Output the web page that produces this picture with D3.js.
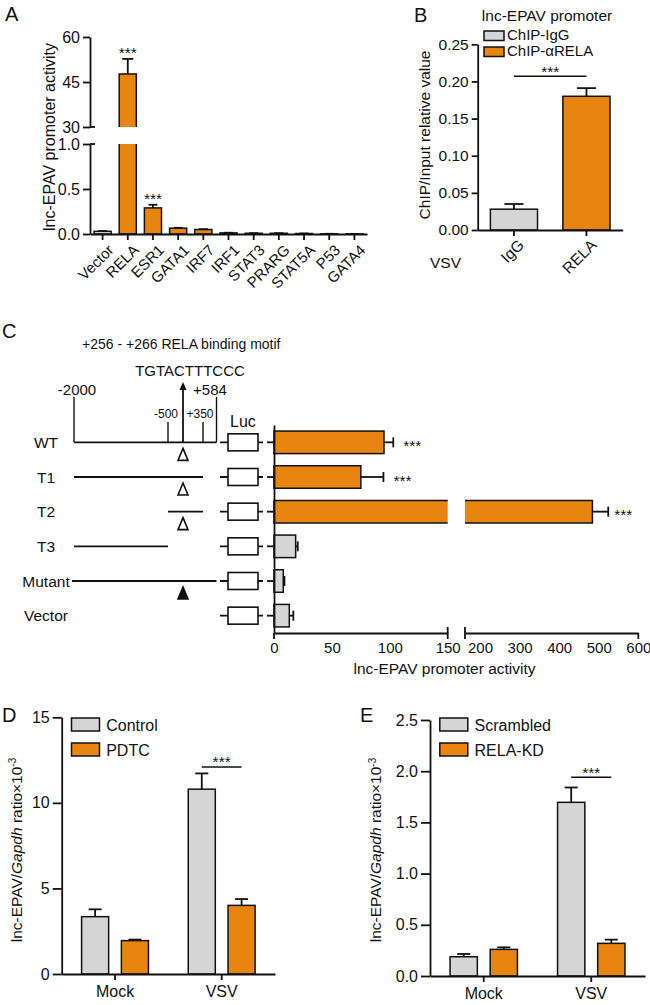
<!DOCTYPE html>
<html><head><meta charset="utf-8">
<script src="https://cdn.jsdelivr.net/npm/d3@7"></script>
<style>
body{margin:0;background:#fff;}
svg{display:block;font-family:"Liberation Sans",Arial,Helvetica,sans-serif;}
</style></head><body>
<svg id="fig" width="650" height="1005"></svg>
<script>
// ---------------- DATA ----------------
// Panel A
const aCategories = ["Vector","RELA","ESR1","GATA1","IRF7","IRF1","STAT3","PRARG","STAT5A","P53","GATA4"];
const aValues = [0.03, 47.7, 0.29, 0.065, 0.05, 0.012, 0.008, 0.008, 0.005, 0.002, 0.001];
const aErrors = [0.003, 5.0, 0.035, 0.004, 0.004, 0.002, 0.001, 0.001, 0.001, 0.0005, 0.0005];
const aOrange = ["RELA","ESR1","GATA1","IRF7"];
const aSignificance = ["","***","***","","","","","","","",""];
const aTicksLow = [0, 0.5, 1.0];
const aTicksHigh = [30, 45, 60];

// Panel B
const bCategories = ["IgG","RELA"];
const bSeries = ["ChIP-IgG","ChIP-\u03B1RELA"];
const bValues = [0.028, 0.18];
const bErrors = [0.007, 0.011];
const bTicks = [0, 0.05, 0.10, 0.15, 0.20, 0.25];
const bSigLine = 0.207;

// Panel C
const cConstructs = ["WT","T1","T2","T3","Mutant","Vector"];
const cValues = [95, 75, 484, 18.7, 8, 13.2];
const cErrors = [8, 19.5, 40, 1.8, 1, 3.5];
const cSignificance = ["***","***","***","","",""];
const cOrange = ["WT","T1","T2"];
const cRegionStart = [-2000, -2000, -500, -2000, -2000, null];
const cRegionEnd = [584, 350, 350, -500, 584, null];
const cMotif = ["open","open","open","none","filled","none"];
const cTicksLow = [0, 50, 100, 150];
const cTicksHigh = [200, 300, 400, 500, 600];
const cSites = [-2000, -500, 256, 350, 584];

// Panel D
const dGroups = ["Mock","VSV"];
const dSeries = ["Control","PDTC"];
const dControl = [3.35, 10.8];
const dControlErr = [0.43, 0.92];
const dPDTC = [1.95, 4.01];
const dPDTCErr = [0.06, 0.37];
const dTicks = [0, 5, 10, 15];
const dSigLine = 12.1;

// Panel E
const eGroups = ["Mock","VSV"];
const eSeries = ["Scrambled","RELA-KD"];
const eScrambled = [0.188, 1.696];
const eScrambledErr = [0.027, 0.145];
const eRelaKD = [0.26, 0.319];
const eRelaKDErr = [0.02, 0.036];
const eTicks = [0, 0.5, 1.0, 1.5, 2.0, 2.5];
const eSigLine = 1.94;

// ---------------- STYLE ----------------
const ORANGE = "#E8850E";
const GRAY = "#D5D5D5";
const INK = "#111";
const FS = 15.5;
const SW = 1.8;

const svg = d3.select("#fig");

function styleAxis(g, fs) {
  g.attr("font-family", null).attr("font-size", fs || FS);
  g.select(".domain").attr("stroke", INK).attr("stroke-width", SW);
  g.selectAll(".tick line").attr("stroke", INK).attr("stroke-width", SW);
  g.selectAll(".tick text").attr("fill", INK);
}
function panelLabel(t, x, y) {
  svg.append("text").attr("x", x).attr("y", y).attr("font-size", 20).attr("fill", INK).text(t);
}
function vErr(g, cx, y0, y1, hw) {
  g.append("line").attr("x1", cx).attr("x2", cx).attr("y1", y0).attr("y2", y1).attr("stroke", INK).attr("stroke-width", SW);
  g.append("line").attr("x1", cx - hw).attr("x2", cx + hw).attr("y1", y1).attr("y2", y1).attr("stroke", INK).attr("stroke-width", SW);
}
function stars(g, x, y, anchor) {
  g.append("text").attr("x", x).attr("y", y).attr("text-anchor", anchor || "middle")
    .attr("font-size", 15.5).attr("fill", INK).text("***");
}

// ---------------- PANEL A ----------------
(function () {
  const g = svg.append("g");
  panelLabel("A", 5, 21);
  const x = d3.scaleBand().domain(aCategories).range([90, 367]).paddingInner(0.32).paddingOuter(0.16);
  const yLow = d3.scaleLinear().domain([0, 1]).range([234, 144]);
  const yHigh = d3.scaleLinear().domain([30, 60]).range([127, 37]);

  aCategories.forEach((c, i) => {
    const v = aValues[i], e = aErrors[i];
    const x0 = x(c), x1 = x(c) + x.bandwidth(), cx = x(c) + x.bandwidth() / 2;
    const fill = aOrange.includes(c) ? ORANGE : GRAY;
    if (v <= 1) {
      g.append("rect").attr("x", x0).attr("y", yLow(v)).attr("width", x.bandwidth())
        .attr("height", yLow(0) - yLow(v)).attr("fill", fill).attr("stroke", INK).attr("stroke-width", 1.5);
      vErr(g, cx, yLow(v), yLow(v + e), 4.5);
      if (aSignificance[i]) stars(g, cx, yLow(v + e) - 1);
    } else {
      g.append("rect").attr("x", x0).attr("y", yLow(1)).attr("width", x.bandwidth())
        .attr("height", yLow(0) - yLow(1)).attr("fill", fill);
      g.append("path").attr("d", `M${x0},${yLow(1)}V${yLow(0)}H${x1}V${yLow(1)}`)
        .attr("fill", "none").attr("stroke", INK).attr("stroke-width", 1.5);
      g.append("rect").attr("x", x0).attr("y", yHigh(v)).attr("width", x.bandwidth())
        .attr("height", yHigh(30) - yHigh(v)).attr("fill", fill);
      g.append("path").attr("d", `M${x0},${yHigh(30)}V${yHigh(v)}H${x1}V${yHigh(30)}`)
        .attr("fill", "none").attr("stroke", INK).attr("stroke-width", 1.5);
      vErr(g, cx, yHigh(v), yHigh(v + e), 5.5);
      if (aSignificance[i]) stars(g, cx, yHigh(v + e) - 1);
    }
  });

  g.append("g").attr("transform", "translate(90,0)")
    .call(d3.axisLeft(yLow).tickValues(aTicksLow).tickFormat(d3.format(".1f")).tickSize(7).tickSizeOuter(0).tickPadding(3))
    .call(styleAxis, 16);
  g.append("g").attr("transform", "translate(90,0)")
    .call(d3.axisLeft(yHigh).tickValues(aTicksHigh).tickFormat(d3.format("d")).tickSize(7).tickSizeOuter(0).tickPadding(3))
    .call(styleAxis, 16);
  [yLow(1), yHigh(30)].forEach(yy => {
    g.append("line").attr("x1", 90).attr("x2", 95).attr("y1", yy).attr("y2", yy).attr("stroke", INK).attr("stroke-width", SW);
  });
  const xa = g.append("g").attr("transform", "translate(0,234)")
    .call(d3.axisBottom(x).tickSize(6).tickSizeOuter(0))
    .call(styleAxis, 15);
  xa.selectAll(".tick text").attr("x", 0).attr("y", 0).attr("dy", 0)
    .attr("text-anchor", "end").attr("transform", "translate(12,17) rotate(-45)");

  g.append("text").attr("transform", "translate(49.5,137) rotate(-90)").attr("dy", "0.35em")
    .attr("text-anchor", "middle").attr("font-size", 16).attr("fill", INK).text("lnc-EPAV promoter activity");
})();

// ---------------- PANEL B ----------------
(function () {
  const g = svg.append("g");
  panelLabel("B", 414, 22);
  const x = d3.scaleBand().domain(bCategories).range([477.7, 622.7]).paddingInner(0.35).paddingOuter(0.175);
  const y = d3.scaleLinear().domain([0, 0.25]).range([230, 44.3]);
  const colors = [GRAY, ORANGE];

  bCategories.forEach((c, i) => {
    const v = bValues[i], e = bErrors[i];
    const cx = x(c) + x.bandwidth() / 2;
    g.append("rect").attr("x", x(c)).attr("y", y(v)).attr("width", x.bandwidth()).attr("height", y(0) - y(v))
      .attr("fill", colors[i]).attr("stroke", INK).attr("stroke-width", 1.5);
    vErr(g, cx, y(v), y(v + e), 9.5);
  });
  const c0 = x(bCategories[0]) + x.bandwidth() / 2, c1 = x(bCategories[1]) + x.bandwidth() / 2;
  g.append("line").attr("x1", c0).attr("x2", c1).attr("y1", y(bSigLine)).attr("y2", y(bSigLine)).attr("stroke", INK).attr("stroke-width", 1.5);
  stars(g, (c0 + c1) / 2, y(bSigLine) + 0.5);

  g.append("g").attr("transform", "translate(477.7,0)")
    .call(d3.axisLeft(y).tickValues(bTicks).tickFormat(d3.format(".2f")).tickSize(6).tickSizeOuter(0).tickPadding(3))
    .call(styleAxis);
  const xa = g.append("g").attr("transform", "translate(0,230)")
    .call(d3.axisBottom(x).tickSize(6).tickSizeOuter(0))
    .call(styleAxis);
  xa.selectAll(".tick text").attr("x", 0).attr("y", 0).attr("dy", 0)
    .attr("text-anchor", "end").attr("transform", "translate(11,16) rotate(-45)");
  g.append("text").attr("x", 430).attr("y", 268).attr("font-size", FS).attr("fill", INK).text("VSV");

  g.append("text").attr("transform", "translate(424.5,135) rotate(-90)").attr("dy", "0.35em")
    .attr("text-anchor", "middle").attr("font-size", FS).attr("fill", INK).text("ChIP/Input relative value");
  g.append("text").attr("x", 547).attr("y", 21).attr("text-anchor", "middle").attr("font-size", FS).attr("fill", INK)
    .text("lnc-EPAV promoter");
  bSeries.forEach((s, i) => {
    g.append("rect").attr("x", 484).attr("y", 31 + i * 16).attr("width", 20).attr("height", 9.5)
      .attr("fill", colors[i]).attr("stroke", INK).attr("stroke-width", 1.5);
    g.append("text").attr("x", 507).attr("y", 39.5 + i * 16).attr("font-size", 15).attr("fill", INK).text(s);
  });
})();

// ---------------- PANEL C ----------------
(function () {
  const g = svg.append("g");
  panelLabel("C", 2, 338);
  const x1 = d3.scaleLinear().domain([0, 150]).range([274, 447.7]);
  const x2 = d3.scaleLinear().domain([162, 600]).range([465, 638.3]);
  const y = d3.scaleBand().domain(cConstructs).range([425, 633]).paddingInner(0.35).paddingOuter(0.175);
  const pos = d3.scaleLinear().domain(cSites).range([74, 168, 183, 203, 216.5]);
  const axisY = 633;

  cConstructs.forEach((c, i) => {
    const v = cValues[i], e = cErrors[i];
    const y0 = y(c), h = y.bandwidth(), cy = y0 + h / 2;
    const fill = cOrange.includes(c) ? ORANGE : GRAY;
    if (v <= 150) {
      g.append("rect").attr("x", x1(0)).attr("y", y0).attr("width", x1(v) - x1(0)).attr("height", h)
        .attr("fill", fill).attr("stroke", INK).attr("stroke-width", 1.5);
      g.append("line").attr("x1", x1(v)).attr("x2", x1(v + e)).attr("y1", cy).attr("y2", cy).attr("stroke", INK).attr("stroke-width", SW);
      g.append("line").attr("x1", x1(v + e)).attr("x2", x1(v + e)).attr("y1", cy - 5).attr("y2", cy + 5).attr("stroke", INK).attr("stroke-width", SW);
      if (cSignificance[i]) stars(g, x1(v + e) + 10, cy + 8.5, "start");
    } else {
      g.append("rect").attr("x", x1(0)).attr("y", y0).attr("width", x1(150) - x1(0)).attr("height", h).attr("fill", fill);
      g.append("path").attr("d", `M${x1(150)},${y0}H${x1(0)}V${y0 + h}H${x1(150)}`)
        .attr("fill", "none").attr("stroke", INK).attr("stroke-width", 1.5);
      g.append("rect").attr("x", x2(162)).attr("y", y0).attr("width", x2(v) - x2(162)).attr("height", h).attr("fill", fill);
      g.append("path").attr("d", `M${x2(162)},${y0}H${x2(v)}V${y0 + h}H${x2(162)}`)
        .attr("fill", "none").attr("stroke", INK).attr("stroke-width", 1.5);
      g.append("line").attr("x1", x2(v)).attr("x2", x2(v + e)).attr("y1", cy).attr("y2", cy).attr("stroke", INK).attr("stroke-width", SW);
      g.append("line").attr("x1", x2(v + e)).attr("x2", x2(v + e)).attr("y1", cy - 5).attr("y2", cy + 5).attr("stroke", INK).attr("stroke-width", SW);
      if (cSignificance[i]) stars(g, x2(v + e) + 6, cy + 8.5, "start");
    }

    g.append("text").attr("x", 46).attr("y", cy + 5.5).attr("text-anchor", "middle").attr("font-size", FS).attr("fill", INK).text(c);
    if (cRegionStart[i] !== null) {
      const xs = c === "Mutant" ? 72 : pos(cRegionStart[i]);
      g.append("line").attr("x1", xs).attr("x2", pos(cRegionEnd[i])).attr("y1", cy).attr("y2", cy)
        .attr("stroke", INK).attr("stroke-width", SW);
    }
    if (cMotif[i] !== "none") {
      const mx = pos(256), ty = cy + 6;
      g.append("path").attr("d", `M${mx},${ty}L${mx + 5},${ty + 12}L${mx - 5},${ty + 12}Z`)
        .attr("fill", cMotif[i] === "filled" ? INK : "#fff").attr("stroke", INK).attr("stroke-width", 1.6);
    }
    g.append("line").attr("x1", 220).attr("x2", 263).attr("y1", cy).attr("y2", cy).attr("stroke", INK).attr("stroke-width", SW);
    g.append("rect").attr("x", 228).attr("y", cy - 8.5).attr("width", 30).attr("height", 17)
      .attr("fill", "#fff").attr("stroke", INK).attr("stroke-width", 1.6);
  });

  g.append("g").attr("transform", "translate(274,0)")
    .call(d3.axisLeft(y).tickSize(7).tickSizeOuter(0).tickFormat(""))
    .call(styleAxis);
  g.append("g").attr("transform", `translate(0,${axisY})`)
    .call(d3.axisBottom(x1).tickValues(cTicksLow).tickSize(0).tickPadding(9).tickSizeOuter(0))
    .call(styleAxis, 15);
  g.append("g").attr("transform", `translate(0,${axisY})`)
    .call(d3.axisBottom(x2).tickValues(cTicksHigh).tickSize(0).tickPadding(9).tickSizeOuter(0))
    .call(styleAxis, 15);
  [[x1(0), 0, 6], [x1(150), -6, 6], [x2(162), -6, 6], [x2(600), 0, 6]].forEach(m => {
    g.append("line").attr("x1", m[0]).attr("x2", m[0]).attr("y1", axisY + m[1]).attr("y2", axisY + m[2])
      .attr("stroke", INK).attr("stroke-width", SW);
  });
  g.append("text").attr("x", 444.5).attr("y", 674).attr("text-anchor", "middle").attr("font-size", FS).attr("fill", INK)
    .text("lnc-EPAV promoter activity");

  const wtY = y("WT") + y.bandwidth() / 2;
  g.append("text").attr("x", 82).attr("y", 349).attr("font-size", 14).attr("fill", INK).text("+256 - +266 RELA binding motif");
  g.append("text").attr("x", 190).attr("y", 376).attr("text-anchor", "middle").attr("font-size", 15).attr("fill", INK).text("TGTACTTTCCC");
  g.append("text").attr("x", 77).attr("y", 395).attr("text-anchor", "middle").attr("font-size", 15).attr("fill", INK).text("-2000");
  g.append("text").attr("x", 210).attr("y", 395).attr("text-anchor", "middle").attr("font-size", 15).attr("fill", INK).text("+584");
  g.append("text").attr("x", 166).attr("y", 418).attr("text-anchor", "middle").attr("font-size", 12).attr("fill", INK).text("-500");
  g.append("text").attr("x", 200).attr("y", 418).attr("text-anchor", "middle").attr("font-size", 12).attr("fill", INK).text("+350");
  [[pos(-2000), 397], [pos(584), 397], [pos(-500), 422], [pos(350), 422]].forEach(m => {
    g.append("line").attr("x1", m[0]).attr("x2", m[0]).attr("y1", m[1]).attr("y2", wtY).attr("stroke", INK).attr("stroke-width", 1.4);
  });
  const ax = pos(256);
  g.append("line").attr("x1", ax).attr("x2", ax).attr("y1", wtY).attr("y2", 388).attr("stroke", INK).attr("stroke-width", 1.8);
  g.append("path").attr("d", `M${ax},382L${ax + 3.6},390L${ax - 3.6},390Z`).attr("fill", INK);
  g.append("text").attr("x", 230).attr("y", 427).attr("font-size", 16).attr("fill", INK).text("Luc");
})();

// ---------------- PANELS D & E ----------------
function grouped(opts) {
  const g = svg.append("g");
  panelLabel(opts.label, opts.labelX, 722);
  const x = d3.scaleBand().domain(opts.groups).range([opts.x0, opts.x1]);
  const xs = d3.scaleBand().domain(opts.series).range([0, x.bandwidth()]).paddingInner(0.32).paddingOuter(0.5);
  const y = d3.scaleLinear().domain([0, opts.max]).range([opts.yBottom, opts.yTop]);
  const colors = [GRAY, ORANGE];

  opts.series.forEach((s, si) => {
    opts.groups.forEach((gr, gi) => {
      const v = opts.values[si][gi], e = opts.errors[si][gi];
      const bx = x(gr) + xs(s), cx = bx + xs.bandwidth() / 2;
      g.append("rect").attr("x", bx).attr("y", y(v)).attr("width", xs.bandwidth()).attr("height", y(0) - y(v))
        .attr("fill", colors[si]).attr("stroke", INK).attr("stroke-width", 1.5);
      vErr(g, cx, y(v), y(v + e), 6.5);
    });
  });
  const gl = opts.groups[opts.groups.length - 1];
  const ca = x(gl) + xs(opts.series[0]) + xs.bandwidth() / 2;
  const cb = x(gl) + xs(opts.series[1]) + xs.bandwidth() / 2;
  g.append("line").attr("x1", ca).attr("x2", cb).attr("y1", y(opts.sig)).attr("y2", y(opts.sig)).attr("stroke", INK).attr("stroke-width", 1.5);
  stars(g, (ca + cb) / 2, y(opts.sig) + 0.5);

  g.append("g").attr("transform", `translate(${opts.x0},0)`)
    .call(d3.axisLeft(y).tickValues(opts.ticks).tickFormat(d3.format(opts.fmt)).tickSize(9).tickSizeOuter(0).tickPadding(3))
    .call(styleAxis, 16);
  g.append("g").attr("transform", `translate(0,${opts.yBottom})`)
    .call(d3.axisBottom(x).tickSize(6).tickSizeOuter(0).tickPadding(6))
    .call(styleAxis, 16);

  opts.series.forEach((s, si) => {
    g.append("rect").attr("x", opts.x0 + 9.8).attr("y", 718 + si * 25).attr("width", 28).attr("height", 13)
      .attr("fill", colors[si]).attr("stroke", INK).attr("stroke-width", 1.5);
    g.append("text").attr("x", opts.x0 + 44.5).attr("y", 730.5 + si * 25).attr("font-size", 16).attr("fill", INK).text(s);
  });

  const t = g.append("text").attr("transform", `translate(${opts.titleX},${opts.titleY}) rotate(-90)`).attr("dy", "0.35em")
    .attr("text-anchor", "middle").attr("font-size", FS).attr("fill", INK);
  t.append("tspan").text("lnc-EPAV/");
  t.append("tspan").attr("font-style", "italic").text("Gapdh");
  t.append("tspan").text(" ratio\u00D710");
  t.append("tspan").attr("font-size", 10).attr("dy", "-0.55em").text("-3");
}

grouped({
  label: "D", labelX: 2, groups: dGroups, series: dSeries,
  values: [dControl, dPDTC], errors: [dControlErr, dPDTCErr],
  x0: 61.7, x1: 275, yTop: 717.3, yBottom: 974, max: 15, ticks: dTicks, fmt: "d",
  sig: dSigLine, titleX: 16.5, titleY: 850
});
grouped({
  label: "E", labelX: 360, groups: eGroups, series: eSeries,
  values: [eScrambled, eRelaKD], errors: [eScrambledErr, eRelaKDErr],
  x0: 430, x1: 645, yTop: 720, yBottom: 976, max: 2.5, ticks: eTicks, fmt: ".1f",
  sig: eSigLine, titleX: 376, titleY: 850
});
</script>
</body></html>
